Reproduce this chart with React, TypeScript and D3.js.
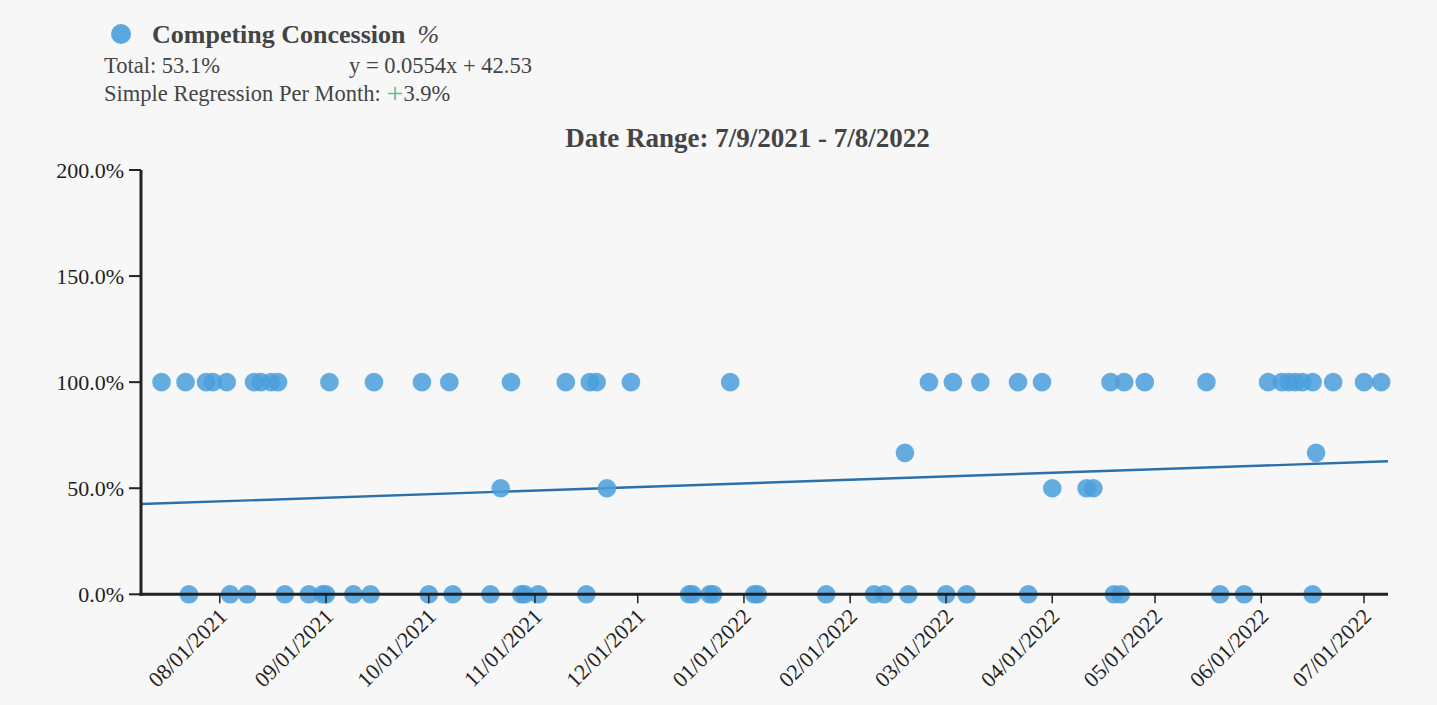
import React from "react";
import * as d3 from "d3";

const W = 1437;
const H = 705;

const seriesName = "Competing Concession";
const seriesUnit = "%";
const totalLabel = "Total: 53.1%";
const equationLabel = "y = 0.0554x + 42.53";
const regressionLabel = "Simple Regression Per Month: ";
const regressionValue = "3.9%";
const titleLabel = "Date Range: 7/9/2021 - 7/8/2022";

const startDate = "2021-07-09";
const endDate = "2022-07-08";
const slope = 0.0554; // per day
const intercept = 42.53;

const yTicks = [0, 50, 100, 150, 200];
const xTicks = [
  "2021-08-01", "2021-09-01", "2021-10-01", "2021-11-01", "2021-12-01", "2022-01-01",
  "2022-02-01", "2022-03-01", "2022-04-01", "2022-05-01", "2022-06-01", "2022-07-01",
];

const dates100 = [
  "2021-07-15", "2021-07-22", "2021-07-28", "2021-07-30", "2021-08-03", "2021-08-11",
  "2021-08-13", "2021-08-16", "2021-08-18", "2021-09-02", "2021-09-15", "2021-09-29",
  "2021-10-07", "2021-10-25", "2021-11-10", "2021-11-17", "2021-11-19", "2021-11-29",
  "2021-12-28", "2022-02-24", "2022-03-03", "2022-03-11", "2022-03-22", "2022-03-29",
  "2022-04-18", "2022-04-22", "2022-04-28", "2022-05-16", "2022-06-03", "2022-06-07",
  "2022-06-09", "2022-06-11", "2022-06-13", "2022-06-16", "2022-06-22", "2022-07-01",
  "2022-07-06",
];
const dates67 = ["2022-02-17", "2022-06-17"];
const dates50 = ["2021-10-22", "2021-11-22", "2022-04-01", "2022-04-11", "2022-04-13"];
const dates0 = [
  "2021-07-23", "2021-08-04", "2021-08-09", "2021-08-20", "2021-08-27", "2021-08-31",
  "2021-09-01", "2021-09-09", "2021-09-14", "2021-10-01", "2021-10-08", "2021-10-19",
  "2021-10-28", "2021-10-29", "2021-11-02", "2021-11-16", "2021-12-16", "2021-12-17",
  "2021-12-22", "2021-12-23", "2022-01-04", "2022-01-05", "2022-01-25", "2022-02-08",
  "2022-02-11", "2022-02-18", "2022-03-01", "2022-03-07", "2022-03-25", "2022-04-19",
  "2022-04-21", "2022-05-20", "2022-05-27", "2022-06-16",
];

const parse = (s: string) => {
  const [y, m, d] = s.split("-").map(Number);
  return new Date(y, m - 1, d);
};

const points = [
  ...dates100.map((d) => ({ date: parse(d), value: 100 })),
  ...dates67.map((d) => ({ date: parse(d), value: 66.67 })),
  ...dates50.map((d) => ({ date: parse(d), value: 50 })),
  ...dates0.map((d) => ({ date: parse(d), value: 0 })),
];

const FONT = "'Liberation Serif', 'Times New Roman', serif";

export default function App() {
  const left = 141;
  const right = 1388;
  const top = 170;
  const bottom = 594.3;

  const x0 = parse(startDate);
  const x1 = parse(endDate);
  const x = d3.scaleTime().domain([x0, x1]).range([left, right]);
  const y = d3.scaleLinear().domain([0, 200]).range([bottom, top]);

  const days = d3.timeDay.count(x0, x1);
  const regLine = d3
    .line<number>()
    .x((d) => x(d3.timeDay.offset(x0, d)))
    .y((d) => y(intercept + slope * d));

  const fmtY = (v: number) => d3.format(".1f")(v) + "%";
  const fmtX = d3.timeFormat("%m/%d/%Y");

  return (
    <svg
      width={W}
      height={H}
      style={{ position: "absolute", left: 0, top: 0, background: "#f7f7f7" }}
      fontFamily={FONT}
    >
      <rect x={0} y={0} width={W} height={H} fill="#f7f7f7" />
      {/* legend */}
      <circle cx={121} cy={34} r={10} fill="#5aa7de" />
      <text x={152} y={43} fontSize={26} fontWeight="bold" fill="#444">
        {seriesName}
        <tspan dx={12} fontStyle="italic" fontWeight="normal">{seriesUnit}</tspan>
      </text>
      <text x={104} y={73} fontSize={22.5} fill="#444">
        {totalLabel}
      </text>
      <text x={349} y={73} fontSize={22.5} fill="#444">
        {equationLabel}
      </text>
      <text x={104} y={101} fontSize={22.5} fill="#444">
        {regressionLabel}
        <tspan fill="#5cbf98" fontSize={30} dy={2}>+</tspan>
        <tspan dy={-2}>{regressionValue}</tspan>
      </text>
      {/* title */}
      <text x={747.5} y={147} fontSize={27} fontWeight="bold" fill="#444" textAnchor="middle">
        {titleLabel}
      </text>

      {/* regression line */}
      <path d={regLine([0, days]) || ""} stroke="#2a70aa" strokeWidth={2.4} fill="none" />

      {/* points */}
      {points.map((p, i) => (
        <circle key={i} cx={x(p.date)} cy={y(p.value)} r={9.3} fill="#4a9fdc" fillOpacity={0.85} />
      ))}

      {/* y axis */}
      <line x1={left} x2={left} y1={top} y2={bottom + 1.5} stroke="#222" strokeWidth={3} />
      {yTicks.map((t) => (
        <g key={t} transform={`translate(0,${y(t)})`}>
          <line x1={129} x2={left} stroke="#222" strokeWidth={2} />
          <text x={124} dy="0.35em" fontSize={22} textAnchor="end" fill="#222">
            {fmtY(t)}
          </text>
        </g>
      ))}

      {/* x axis */}
      <line x1={left - 1.5} x2={right} y1={bottom} y2={bottom} stroke="#222" strokeWidth={3} />
      {xTicks.map((t) => {
        const xx = x(parse(t));
        return (
          <g key={t} transform={`translate(${xx},${bottom})`}>
            <line y1={0} y2={9} stroke="#222" strokeWidth={1.5} />
            <text
              transform="translate(3,18) rotate(-45)"
              fontSize={22}
              textAnchor="end"
              fill="#222"
              dy="0.35em"
            >
              {fmtX(parse(t))}
            </text>
          </g>
        );
      })}
    </svg>
  );
}
